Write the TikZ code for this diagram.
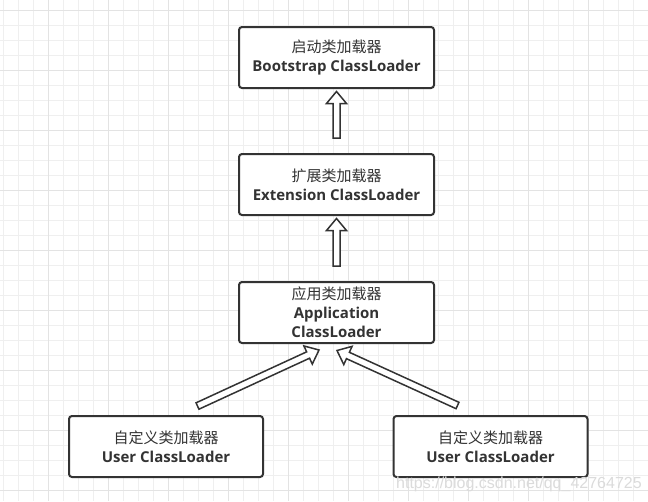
\documentclass[tikz,border=0pt]{standalone}
\usepackage{fontspec}
\setmainfont{Open Sans}
\newfontfamily\cjk{Noto Sans CJK SC}
\newfontfamily\wmfont{Liberation Sans}
\usetikzlibrary{calc}
\definecolor{ink}{HTML}{333333}
\definecolor{gridminor}{HTML}{EFEFEF}
\definecolor{gridmajor}{HTML}{E3E3E3}
\newcommand{\hollowarrow}[2]{%
  \draw[blockarrow]
    ($(#1)!3.5pt!90:(#2)$) --
    ($(#2)!12pt!(#1)!3.5pt!90:(#2)$) --
    ($(#2)!12pt!(#1)!10pt!90:(#2)$) --
    (#2) --
    ($(#2)!12pt!(#1)!10pt!-90:(#2)$) --
    ($(#2)!12pt!(#1)!3.5pt!-90:(#2)$) --
    ($(#1)!3.5pt!-90:(#2)$) -- cycle;}
\begin{document}
\begin{tikzpicture}[x=1pt,y=-1pt,
  box/.style={draw=ink,line width=2pt,rounded corners=3pt,fill=white,
    minimum width=195pt,minimum height=61pt,inner sep=0pt,align=center,
    text=ink,font=\fontsize{15}{19}\selectfont},
  blockarrow/.style={draw=ink,line width=1.5pt,fill=white,line join=miter}]
\fill[white] (0,0) rectangle (648,501);
\useasboundingbox (0,0) rectangle (648,501);
\foreach \x in {3.3,18.3,...,648} \draw[gridminor,line width=1pt] (\x,0) -- (\x,501);
\foreach \y in {10,25,...,501} \draw[gridminor,line width=1pt] (0,\y) -- (648,\y);
\foreach \x in {48.3,108.3,...,648} \draw[gridmajor,line width=1pt] (\x,0) -- (\x,501);
\foreach \y in {10,70,...,501} \draw[gridmajor,line width=1pt] (0,\y) -- (648,\y);

\node[box] (b1) at (336.5,57.5) {{\cjk 启动类加载器}\\\textbf{Bootstrap ClassLoader}};
\node[box] (b2) at (336.5,184.5) {{\cjk 扩展类加载器}\\\textbf{Extension ClassLoader}};
\node[box] (b3) at (336.5,312.5) {{\cjk 应用类加载器}\\\textbf{Application}\\\textbf{ClassLoader}};
\node[box,minimum width=194pt] (u1) at (166,446.5) {{\cjk 自定义类加载器}\\\textbf{User ClassLoader}};
\node[box,minimum width=194pt] (u2) at (490.5,446.5) {{\cjk 自定义类加载器}\\\textbf{User ClassLoader}};

\coordinate (h1) at ($(b1.south)+(0,2.5)$);
\coordinate (t1) at ($(b2.north)+(0,-15)$);
\coordinate (h2) at ($(b2.south)+(0,2.5)$);
\coordinate (t2) at ($(b3.north)+(0,-15)$);
\coordinate (hl) at ($(b3.south)+(-17.5,6)$);
\coordinate (tl) at ($(u1.north)+(31.5,-9)$);
\coordinate (hr) at ($(b3.south)+(0.5,6.5)$);
\coordinate (tr) at ($(u2.north)+(-33,-9.5)$);

\hollowarrow{t1}{h1}
\hollowarrow{t2}{h2}
\hollowarrow{tl}{hl}
\hollowarrow{tr}{hr}

\node[font=\wmfont\fontsize{16}{16}\selectfont,text=black!14,anchor=base west,inner sep=0pt] (wm) at (396,488) {https://blog.csdn.net/qq\_42764725};
\end{tikzpicture}
\end{document}
